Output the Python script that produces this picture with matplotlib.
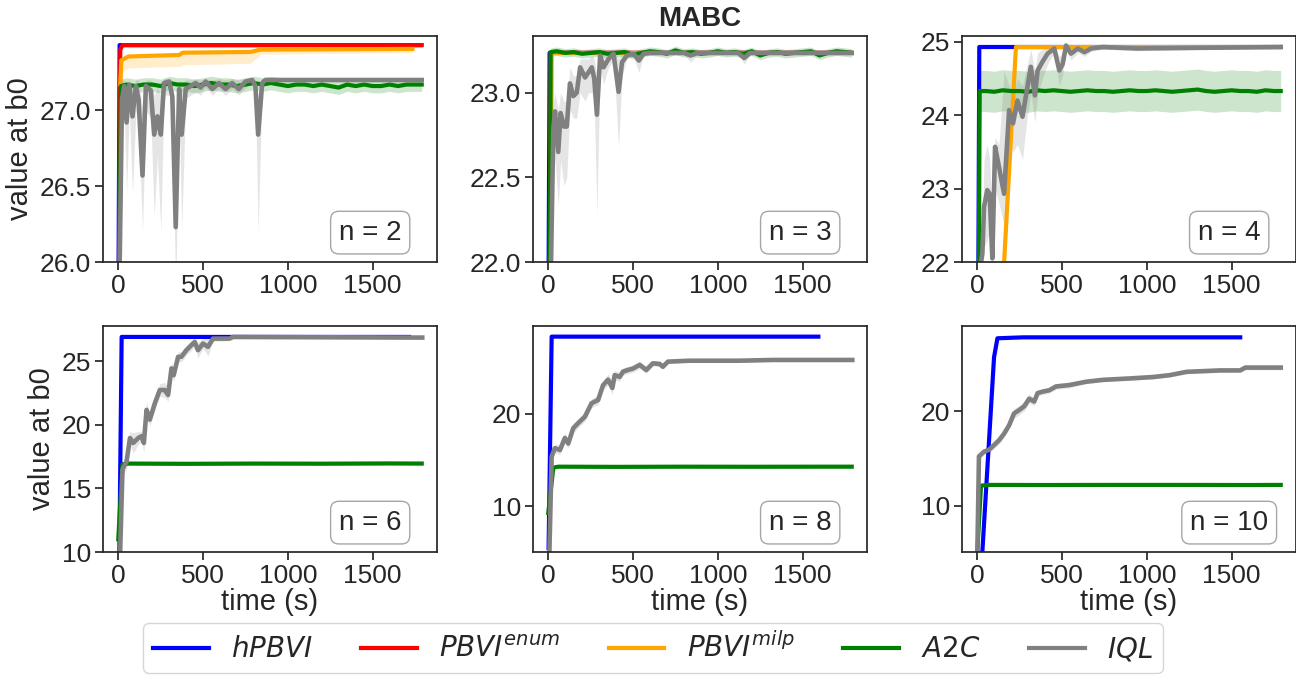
import matplotlib
matplotlib.use("Agg")
import matplotlib.pyplot as plt
from matplotlib.lines import Line2D
import numpy as np

plt.rcParams['font.family'] = ['Liberation Sans', 'DejaVu Sans']
plt.rcParams['axes.edgecolor'] = '.15'
plt.rcParams['axes.linewidth'] = 1.25
plt.rcParams['xtick.color'] = '.15'
plt.rcParams['ytick.color'] = '.15'
plt.rcParams['text.color'] = '.15'
plt.rcParams['axes.labelcolor'] = '.15'
plt.rcParams['xtick.major.size'] = 5.5
plt.rcParams['ytick.major.size'] = 5.5
plt.rcParams['xtick.major.width'] = 1.25
plt.rcParams['ytick.major.width'] = 1.25

# ---------------- data ----------------
n_values = [2, 3, 4, 6, 8, 10]
method_labels = ['$hPBVI$', '$PBVI^{enum}$', '$PBVI^{milp}$', '$A2C$', '$IQL$']
method_colors = ['blue', 'red', 'orange', 'green', 'gray']

grid_t = list(range(50, 1800, 50))  # A2C sampling times

# n = 2
hpbvi_t_2 = [0, 8, 1780]
hpbvi_v_2 = [25.5, 27.43, 27.43]
enum_t_2 = [3, 12, 25, 1790]
enum_v_2 = [25.8, 27.40, 27.43, 27.43]
milp_t_2 = [12, 18, 60, 360, 380, 780, 840, 1735]
milp_v_2 = [27.17, 27.33, 27.355, 27.365, 27.38, 27.385, 27.40, 27.405]
milp_lo_2 = [27.17, 27.25, 27.28, 27.29, 27.30, 27.31, 27.37, 27.38]
a2c_t_2 = [5, 15] + grid_t + [1790]
a2c_v_2 = [25.5, 27.16,
           27.17, 27.16, 27.17, 27.17, 27.16, 27.18, 27.17, 27.17, 27.16, 27.17,
           27.18, 27.17, 27.17, 27.16, 27.17, 27.18, 27.17, 27.18, 27.17, 27.16,
           27.17, 27.17, 27.16, 27.17, 27.16, 27.15, 27.17, 27.16, 27.17, 27.16,
           27.16, 27.17, 27.16, 27.17, 27.17,
           27.17]
a2c_sd_2 = 0.045
iql_t_2 = [6, 22, 35, 49, 65, 84, 104, 120, 143, 163,
           192, 212, 231, 251, 270, 300, 319, 339, 359, 374,
           398, 427, 457, 486, 515, 555, 594, 633, 672, 711,
           751, 790, 809, 825, 849, 868, 1790]
iql_v_2 = [25.8, 27.07, 27.16, 26.92, 27.17, 26.96, 27.16, 27.07, 26.57, 27.16,
           27.13, 26.84, 26.96, 26.84, 27.18, 27.19, 27.09, 26.23, 27.14, 26.84,
           27.14, 27.16, 27.18, 27.15, 27.19, 27.14, 27.18, 27.14, 27.18, 27.14,
           27.19, 27.20, 27.16, 26.84, 27.18, 27.20, 27.20]
iql_lo_2 = [25.5, 26.8, 27.0, 26.45, 27.0, 26.45, 27.0, 26.9, 26.2, 27.0,
            26.95, 26.3, 26.7, 26.2, 27.1, 27.1, 26.9, 25.8, 27.05, 26.2,
            27.08, 27.1, 27.12, 27.1, 27.15, 27.1, 27.14, 27.1, 27.14, 27.1,
            27.15, 27.18, 27.12, 26.2, 27.16, 27.19, 27.19]
iql_hi_2 = [26.0, 27.2, 27.2, 27.15, 27.2, 27.15, 27.2, 27.2, 27.0, 27.2,
            27.2, 27.1, 27.15, 27.1, 27.21, 27.21, 27.2, 26.8, 27.2, 27.15,
            27.2, 27.2, 27.21, 27.2, 27.21, 27.2, 27.21, 27.2, 27.21, 27.2,
            27.21, 27.21, 27.2, 27.1, 27.21, 27.21, 27.21]

# n = 3
hpbvi_t_3 = [0, 8, 1780]
hpbvi_v_3 = [21.5, 23.235, 23.235]
enum_t_3 = [5, 15, 1790]
enum_v_3 = [21.5, 23.235, 23.235]
milp_t_3 = [10, 20, 1780]
milp_v_3 = [21.0, 23.235, 23.235]
milp_lo_3 = [21.0, 23.23, 23.23]
a2c_t_3 = [8, 14] + grid_t + [1790]
a2c_v_3 = [21.5, 23.24,
           23.245, 23.235, 23.24, 23.23, 23.235, 23.24, 23.23, 23.235, 23.24, 23.225,
           23.235, 23.245, 23.24, 23.23, 23.25, 23.235, 23.24, 23.23, 23.235, 23.245,
           23.235, 23.24, 23.23, 23.245, 23.22, 23.235, 23.24, 23.23, 23.235, 23.24,
           23.245, 23.22, 23.235, 23.245, 23.24,
           23.235]
a2c_sd_3 = 0.025
iql_t_3 = [8, 30, 40, 59, 73, 93, 109, 128, 148, 168,
           188, 217, 237, 257, 271, 287, 306, 326, 356, 385,
           415, 435, 464, 504, 534, 563, 600, 800, 840, 880,
           1120, 1156, 1190, 1790]
iql_v_3 = [21.5, 22.79, 22.89, 22.65, 22.88, 22.80, 22.80, 23.055, 22.98, 23.0,
           23.15, 23.09, 23.12, 23.15, 23.085, 22.87, 23.22, 23.15, 23.20, 23.23,
           23.005, 23.18, 23.22, 23.23, 23.19, 23.23, 23.235, 23.235, 23.22, 23.235,
           23.235, 23.205, 23.235, 23.235]
iql_lo_3 = [21.3, 22.6, 22.6, 22.33, 22.6, 22.45, 22.5, 22.9, 22.85, 22.85,
            23.0, 22.95, 23.0, 23.0, 22.95, 22.28, 23.15, 23.05, 23.15, 23.2,
            22.68, 23.1, 23.2, 23.21, 23.12, 23.22, 23.225, 23.225, 23.18, 23.225,
            23.225, 23.17, 23.225, 23.225]
iql_hi_3 = [21.8, 22.95, 23.0, 22.9, 23.0, 22.95, 22.95, 23.15, 23.1, 23.1,
            23.2, 23.2, 23.2, 23.22, 23.2, 23.1, 23.24, 23.24, 23.24, 23.245,
            23.2, 23.24, 23.24, 23.245, 23.24, 23.245, 23.245, 23.245, 23.24, 23.245,
            23.245, 23.24, 23.245, 23.245]

# n = 4
hpbvi_t_4 = [5, 12, 1790]
hpbvi_v_4 = [21.0, 24.93, 24.93]
milp_t_4 = [130, 228, 1790]
milp_v_4 = [20.8, 24.93, 24.93]
a2c_t_4 = [8, 14] + grid_t + [1790]
a2c_v_4 = [21.0, 24.33,
           24.33, 24.32, 24.34, 24.33, 24.33, 24.32, 24.34, 24.33, 24.34, 24.33,
           24.32, 24.33, 24.34, 24.33, 24.33, 24.32, 24.33, 24.34, 24.33, 24.33,
           24.34, 24.33, 24.32, 24.33, 24.34, 24.35, 24.33, 24.32, 24.33, 24.34,
           24.33, 24.33, 24.32, 24.34, 24.33,
           24.33]
a2c_sd_4 = 0.28
iql_t_4 = [8, 30, 40, 59, 73, 89, 105, 128, 158, 188,
           211, 237, 267, 296, 316, 340, 356, 385, 415, 454,
           484, 504, 524, 553, 593, 632, 672, 741, 939, 1790]
iql_v_4 = [21.8, 22.11, 22.75, 22.98, 22.93, 22.05, 23.57, 23.30, 22.93, 24.07,
           23.89, 24.2, 23.98, 24.39, 24.66, 24.27, 24.61, 24.73, 24.84, 24.91,
           24.61, 24.70, 24.95, 24.84, 24.91, 24.86, 24.91, 24.93, 24.91, 24.93]
iql_lo_4 = [21.3, 21.8, 22.2, 22.3, 22.4, 21.8, 23.0, 22.8, 22.5, 23.6,
            23.5, 23.6, 23.4, 24.0, 24.3, 23.9, 24.3, 24.5, 24.7, 24.85,
            24.4, 24.55, 24.88, 24.75, 24.85, 24.8, 24.87, 24.9, 24.88, 24.92]
iql_hi_4 = [22.1, 22.5, 23.4, 23.6, 23.4, 22.5, 23.7, 23.6, 24.6, 24.4,
            24.3, 24.5, 24.4, 24.7, 24.9, 24.6, 24.85, 24.9, 24.95, 24.96,
            24.8, 24.85, 24.97, 24.93, 24.95, 24.93, 24.95, 24.95, 24.94, 24.95]

# n = 6
hpbvi_t_6 = [5, 20, 1715]
hpbvi_v_6 = [8.0, 26.9, 26.9]
a2c_t_6 = [0, 25, 60, 400, 800, 1200, 1600, 1790]
a2c_v_6 = [11.0, 16.9, 16.95, 16.93, 16.95, 16.94, 16.96, 16.95]
a2c_sd_6 = 0.12
iql_t_6 = [8, 25, 49, 69, 88, 118, 137, 151, 167, 186,
           216, 245, 274, 294, 314, 327, 353, 372, 402, 431,
           451, 470, 500, 529, 559, 608, 657, 676, 1793]
iql_v_6 = [8.5, 16.5, 17.1, 18.96, 18.57, 18.96, 19.1, 18.57, 21.17, 20.4,
           21.7, 22.73, 22.73, 22.34, 24.43, 23.9, 25.34, 25.34, 25.86, 26.25,
           26.5, 25.86, 26.38, 26.12, 26.77, 26.77, 26.77, 26.9, 26.85]
iql_sd_6 = [0.3, 0.5, 0.6, 0.5, 0.8, 0.5, 0.4, 0.8, 0.6, 0.5,
            0.5, 0.5, 0.6, 0.5, 0.5, 0.5, 0.4, 0.4, 0.4, 0.4,
            0.3, 0.6, 0.4, 0.7, 0.2, 0.2, 0.15, 0.1, 0.1]

# n = 8
hpbvi_t_8 = [2, 20, 1593]
hpbvi_v_8 = [5.5, 28.35, 28.35]
a2c_t_8 = [0, 30, 60, 400, 800, 1200, 1600, 1790]
a2c_v_8 = [9.3, 14.2, 14.3, 14.28, 14.3, 14.29, 14.3, 14.3]
a2c_sd_8 = 0.15
iql_t_8 = [6, 20, 39, 69, 98, 118, 147, 176, 216, 255,
           294, 323, 353, 378, 392, 421, 441, 470, 500, 539,
           578, 617, 657, 676, 706, 833, 1127, 1323, 1793]
iql_v_8 = [4.5, 15.4, 16.3, 16.1, 17.4, 16.8, 18.45, 19.0, 19.7, 21.15,
           21.5, 23.1, 23.7, 22.8, 24.2, 24.0, 24.57, 24.75, 24.9, 25.3,
           24.75, 25.47, 25.4, 25.1, 25.65, 25.75, 25.75, 25.83, 25.83]
iql_sd_8 = [0.3, 0.5, 0.5, 0.5, 0.5, 0.5, 0.5, 0.5, 0.5, 0.5,
            0.5, 0.5, 0.6, 0.7, 0.5, 0.5, 0.4, 0.4, 0.4, 0.4,
            0.4, 0.3, 0.3, 0.3, 0.2, 0.15, 0.15, 0.15, 0.15]

# n = 10
hpbvi_t_10 = [28, 99, 119, 270, 1551]
hpbvi_v_10 = [4.5, 25.7, 27.7, 27.8, 27.8]
a2c_t_10 = [0, 22, 60, 400, 800, 1200, 1600, 1790]
a2c_v_10 = [5.0, 12.1, 12.18, 12.17, 12.18, 12.18, 12.17, 12.18]
a2c_sd_10 = 0.12
iql_t_10 = [0, 10, 40, 69, 99, 128, 158, 188, 217, 247,
            277, 306, 336, 356, 385, 425, 464, 543, 642, 741,
            899, 1037, 1136, 1235, 1433, 1551, 1581, 1790]
iql_v_10 = [4.5, 15.2, 15.7, 15.9, 16.4, 16.9, 17.6, 18.5, 19.75, 20.1,
            20.5, 21.3, 21.0, 21.9, 22.05, 22.2, 22.6, 22.75, 23.1, 23.3,
            23.45, 23.6, 23.8, 24.15, 24.3, 24.3, 24.6, 24.6]
iql_sd_10 = [0.2, 0.3, 0.3, 0.3, 0.4, 0.4, 0.4, 0.4, 0.5, 0.5,
             0.5, 0.5, 0.4, 0.3, 0.3, 0.3, 0.3, 0.3, 0.2, 0.2,
             0.2, 0.2, 0.2, 0.2, 0.2, 0.2, 0.25, 0.25]

ylims = [(26.0, 27.49), (22.0, 23.335), (22.0, 25.08),
         (10.0, 27.76), (5.08, 29.5), (5.08, 29.0)]
yticks = [[26.0, 26.5, 27.0], [22.0, 22.5, 23.0], [22, 23, 24, 25],
          [10, 15, 20, 25], [10, 20], [10, 20]]
ytick_fmt = ['{:.1f}', '{:.1f}', '{:.0f}', '{:.0f}', '{:.0f}', '{:.0f}']
xticks = [0, 500, 1000, 1500]

# ---------------- assemble ----------------
def sym(v, sd):
    v = np.asarray(v, float)
    sd = np.asarray(sd, float) if np.ndim(sd) else sd
    return v - sd, v + sd

panels = [
    dict(hpbvi=(hpbvi_t_2, hpbvi_v_2), enum=(enum_t_2, enum_v_2),
         milp=(milp_t_2, milp_v_2, milp_lo_2, np.asarray(milp_v_2) + 0.005),
         a2c=(a2c_t_2, a2c_v_2) + sym(a2c_v_2, a2c_sd_2),
         iql=(iql_t_2, iql_v_2, iql_lo_2, iql_hi_2)),
    dict(hpbvi=(hpbvi_t_3, hpbvi_v_3), enum=(enum_t_3, enum_v_3),
         milp=(milp_t_3, milp_v_3, milp_lo_3, milp_v_3),
         a2c=(a2c_t_3, a2c_v_3) + sym(a2c_v_3, a2c_sd_3),
         iql=(iql_t_3, iql_v_3, iql_lo_3, iql_hi_3)),
    dict(hpbvi=(hpbvi_t_4, hpbvi_v_4), enum=None,
         milp=(milp_t_4, milp_v_4, None, None),
         a2c=(a2c_t_4, a2c_v_4) + sym(a2c_v_4, a2c_sd_4),
         iql=(iql_t_4, iql_v_4, iql_lo_4, iql_hi_4)),
    dict(hpbvi=(hpbvi_t_6, hpbvi_v_6), enum=None, milp=None,
         a2c=(a2c_t_6, a2c_v_6) + sym(a2c_v_6, a2c_sd_6),
         iql=(iql_t_6, iql_v_6) + sym(iql_v_6, iql_sd_6)),
    dict(hpbvi=(hpbvi_t_8, hpbvi_v_8), enum=None, milp=None,
         a2c=(a2c_t_8, a2c_v_8) + sym(a2c_v_8, a2c_sd_8),
         iql=(iql_t_8, iql_v_8) + sym(iql_v_8, iql_sd_8)),
    dict(hpbvi=(hpbvi_t_10, hpbvi_v_10), enum=None, milp=None,
         a2c=(a2c_t_10, a2c_v_10) + sym(a2c_v_10, a2c_sd_10),
         iql=(iql_t_10, iql_v_10) + sym(iql_v_10, iql_sd_10)),
]

W, H = 1296, 675
fig = plt.figure(figsize=(W / 100, H / 100), dpi=100)

col_left = [103, 533, 962]
row_top = [36, 326]
aw, ah = 334, 226

line_widths = {'hpbvi': 3.0, 'enum': 3.0, 'milp': 3.0, 'a2c': 3.0, 'iql': 3.3}
for i, p in enumerate(panels):
    r, c = divmod(i, 3)
    ax = fig.add_axes([col_left[c] / W, (H - row_top[r] - ah) / H, aw / W, ah / H])
    keys = ['hpbvi', 'enum', 'milp', 'a2c', 'iql']
    for k, col in zip(keys, method_colors):
        d = p[k]
        if d is None:
            continue
        t, v = d[0], d[1]
        if len(d) > 2 and d[2] is not None:
            ax.fill_between(t, d[2], d[3], color=col, alpha=0.2, lw=0, zorder=1)
        ax.plot(t, v, color=col, lw=line_widths[k], zorder=2, solid_joinstyle='round')
    ax.set_xlim(-90, 1880)
    ax.set_ylim(*ylims[i])
    ax.set_xticks(xticks)
    ax.set_xticklabels([str(x) for x in xticks])
    ax.set_yticks(yticks[i])
    ax.set_yticklabels([ytick_fmt[i].format(y) for y in yticks[i]])
    ax.tick_params(labelsize=19, pad=3)
    if c == 0:
        ax.set_ylabel('value at b0', fontsize=21, labelpad=4)
    if r == 1:
        ax.set_xlabel('time (s)', fontsize=21, labelpad=0)
    if i == 1:
        ax.set_title('MABC', fontsize=20, fontweight='bold', pad=7)
    ax.text(0.80, 0.13, f'n = {n_values[i]}', transform=ax.transAxes,
            ha='center', va='center', fontsize=20, zorder=5,
            bbox=dict(boxstyle='round,pad=0.3', fc='white', ec='0.65', lw=1))

handles = [Line2D([], [], color=c, lw=3) for c in method_colors]
leg = fig.legend(handles, method_labels, loc='center', ncol=5,
                 bbox_to_anchor=(653 / W, 27 / H), fontsize=20,
                 frameon=True, fancybox=True, edgecolor='0.8',
                 handlelength=2.0, handletextpad=0.8, columnspacing=1.75,
                 borderpad=0.35)

fig.savefig('out.png', dpi=100)
